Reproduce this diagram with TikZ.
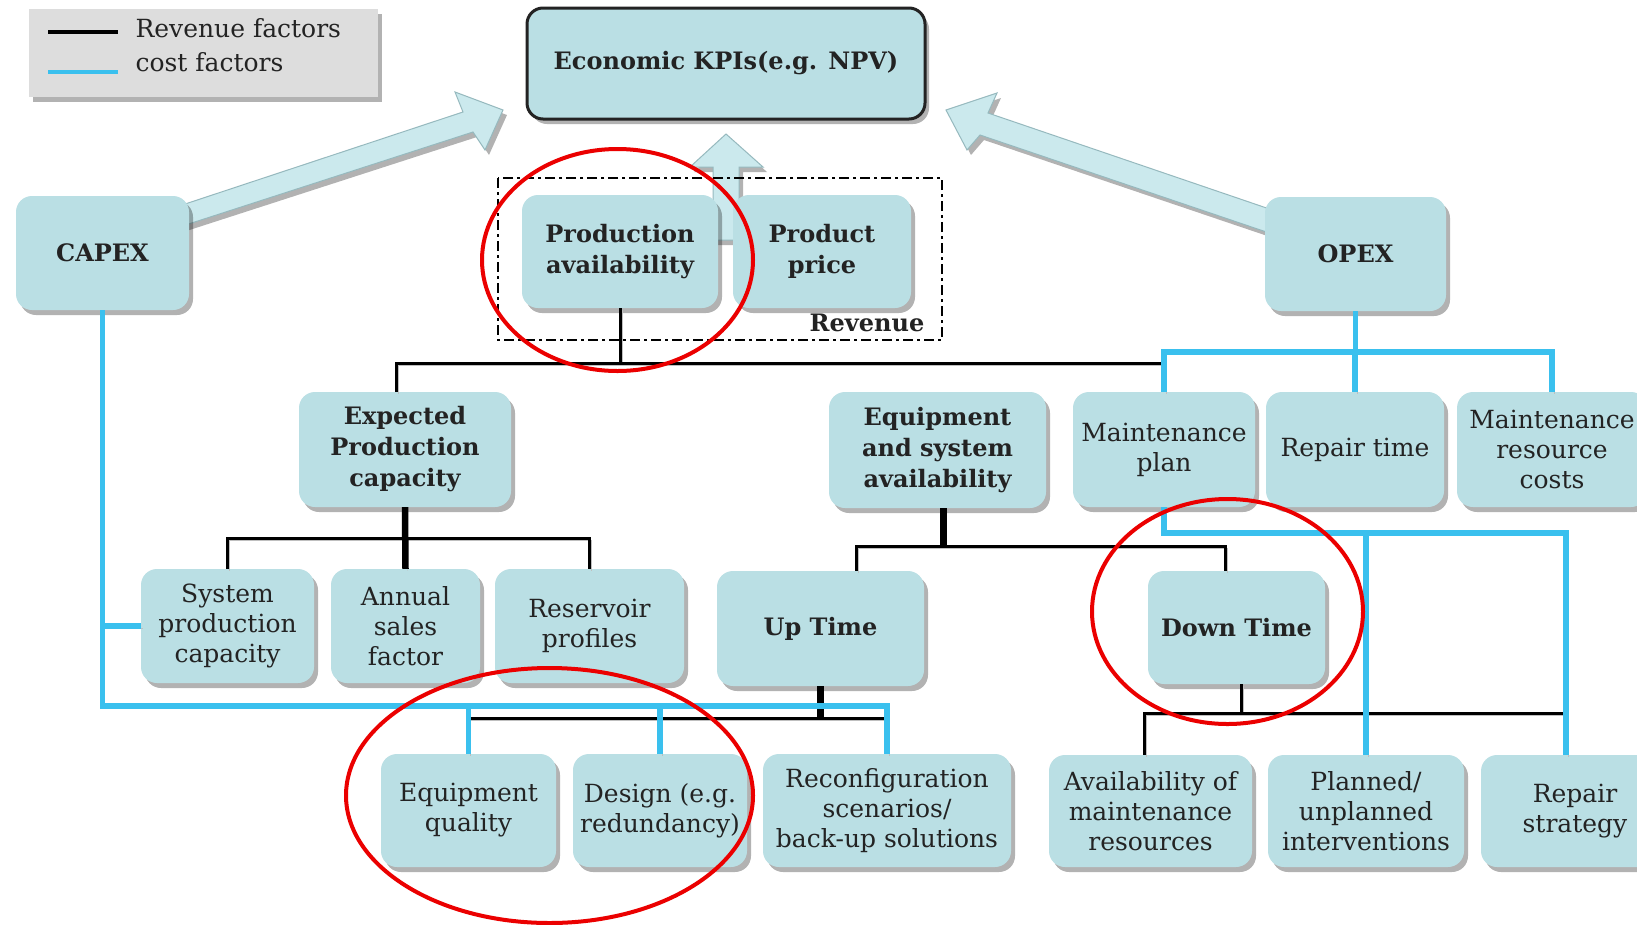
\documentclass[tikz,border=0pt]{standalone}
\usepackage{fontspec}
\setmainfont{DejaVu Serif}
\usetikzlibrary{calc,shadows}
\definecolor{boxfill}{RGB}{186,223,228}
\definecolor{arrowfill}{RGB}{203,233,237}
\definecolor{arrowedge}{RGB}{150,185,190}
\definecolor{costblue}{RGB}{58,192,238}
\definecolor{legendgray}{RGB}{221,221,221}
\definecolor{inkc}{RGB}{35,35,35}
\definecolor{markred}{RGB}{235,0,0}

\begin{document}
\begin{tikzpicture}[x=1pt,y=-1pt,
  shadowed/.style={drop shadow={shadow xshift=4pt,shadow yshift=-5pt,fill=black,opacity=0.3}},
  box/.style={shadowed, rounded corners=16pt, fill=boxfill, align=center, text=inkc,
    inner sep=2pt, font=\fontsize{25}{30}\selectfont},
  boldbox/.style={box, font=\bfseries\fontsize{24}{31}\selectfont},
  wh/.style 2 args={minimum width=#1pt, minimum height=#2pt},
  lineshadow/.style={preaction={draw=black!25, transform canvas={xshift=2pt, yshift=-2pt}}},
  rev/.style={lineshadow, draw=black, line width=3pt},
  revthick/.style={lineshadow, draw=black, line width=6.5pt},
  cost/.style={lineshadow, draw=costblue, line width=5.5pt},
  blockarrow/.style={fill=arrowfill, draw=arrowedge, line width=1pt, shadowed},
  redring/.style={draw=markred, line width=4pt},
]
\clip (0,0) rectangle (1637,924);
\fill[white] (0,0) rectangle (1637,924);

% ---------- legend ----------
\node[shadowed, fill=legendgray, minimum width=349pt, minimum height=88pt, inner sep=0pt] (legend) at (203.5,53) {};
\draw[black, line width=4.5pt] (48,32) -- (118,32);
\draw[costblue, line width=4.5pt] (48,72) -- (118,72);
\node[anchor=west, text=inkc, font=\fontsize{25}{30}\selectfont] (legrev) at (132,28) {Revenue factors};
\node[anchor=west, text=inkc, font=\fontsize{25}{30}\selectfont] (legcost) at (132,62) {cost factors};

% ---------- block arrows towards the KPI box ----------
\filldraw[blockarrow] (170,209) -- (463,112) -- (455,92) -- (503,110) -- (485,150) -- (473,132) -- (170,230) -- cycle;
\filldraw[blockarrow] (1290,216) -- (988,113) -- (997,93) -- (946,110) -- (967,150) -- (980,135) -- (1290,240) -- cycle;
\filldraw[blockarrow] (713,240) -- (713,167) -- (690,167) -- (726,134) -- (763,167) -- (739,167) -- (739,240) -- cycle;

% ---------- revenue group frame ----------
\draw[black, line width=2.5pt, dash pattern=on 10pt off 4pt on 3pt off 4pt] (498,178) rectangle (942,340);
\node[text=inkc, font=\bfseries\fontsize{24}{28}\selectfont] (revlabel) at (867,323) {Revenue};

% ---------- boxes ----------
\node[boldbox, wh={398}{111}, draw=inkc, line width=3pt] (kpi) at (726,63.5) {Economic KPIs(e.g. NPV)};
\node[boldbox, wh={173}{114}] (capex) at (102.5,253) {CAPEX};
\node[boldbox, wh={181}{114}] (opex) at (1355.5,254) {OPEX};
\node[boldbox, wh={196}{113}] (prodavail) at (620,251.5) {Production\\availability};
\node[boldbox, wh={178}{113}] (price) at (822,251.5) {Product\\price};

\node[boldbox, wh={212}{115}] (expprod) at (405,449.5) {Expected\\Production\\capacity};
\node[boldbox, wh={217}{116}] (eqsys) at (937.5,450) {Equipment\\and system\\availability};
\node[box, wh={182}{115}] (mplan) at (1164,449.5) {Maintenance\\plan};
\node[box, wh={178}{115}] (repair) at (1355,449.5) {Repair time};
\node[box, wh={190}{115}] (mres) at (1552,449.5) {Maintenance\\resource\\costs};

\node[box, wh={173}{114}] (sysprod) at (227.5,626) {System\\production\\capacity};
\node[box, wh={149}{114}] (annual) at (405.5,626) {Annual\\sales\\factor};
\node[box, wh={189}{114}] (reservoir) at (589.5,626) {Reservoir\\profiles};
\node[boldbox, wh={207}{115}] (uptime) at (820.5,628.5) {Up Time};
\node[boldbox, wh={177}{113}] (downtime) at (1236.5,627.5) {Down Time};

\node[box, wh={175}{113}] (eqqual) at (468.5,810.5) {Equipment\\quality};
\node[box, wh={174}{113}] (design) at (660,810.5) {Design (e.g.\\redundancy)};
\node[box, wh={248}{113}] (reconfig) at (887,810.5) {Reconfiguration\\scenarios/\\back-up solutions};
\node[box, wh={203}{112}] (availres) at (1150.5,811) {Availability of\\maintenance\\resources};
\node[box, wh={196}{112}] (planned) at (1366,811) {Planned/\\unplanned\\interventions};
\node[box, wh={188}{112}] (repstrat) at (1575,811) {Repair\\strategy};

% ---------- bus levels ----------
\coordinate (yRev) at (0,363);
\coordinate (yEP) at (0,538);
\coordinate (yEQ) at (0,546);
\coordinate (yUT) at (0,718);
\coordinate (yDT) at (0,713);
\coordinate (yCX) at (0,706);
\coordinate (yOX) at (0,352);
\coordinate (yMP) at (0,533);

% drop points that sit off the box centres
\coordinate (epd) at ($(expprod.north)+(-9,0)$);
\coordinate (esd) at ($(eqsys.south)+(6,0)$);
\coordinate (upd) at ($(uptime.north)+(36,0)$);
\coordinate (dnd) at ($(downtime.north)+(-11,0)$);
\coordinate (dns) at ($(downtime.south)+(5,0)$);
\coordinate (rsd) at ($(repstrat.north)+(-9,0)$);

% ---------- revenue factors (black) ----------
\draw[rev] (prodavail.south) -- (prodavail.south |- yRev);
\draw[rev] (epd) |- (yRev -| mplan.north);
\draw[rev] (sysprod.north) |- (yEP -| reservoir.north) -- (reservoir.north);
\draw[revthick] (expprod.south) -- (annual.north);
\draw[revthick] (esd) -- (esd |- yEQ);
\draw[rev] (upd) |- (yEQ -| dnd) -- (dnd);
\draw[revthick] (uptime.south) -- (uptime.south |- yUT);
\draw[rev] (yUT -| eqqual.north) -- (yUT -| reconfig.north);
\draw[rev] (dns) -- (dns |- yDT);
\draw[rev] ($(availres.north)+(-6,0)$) |- (yDT -| rsd);

% ---------- cost factors (blue) ----------
\draw[cost] (capex.south) |- (yCX -| reconfig.north) -- (reconfig.north);
\draw[cost] (capex.south |- sysprod.west) -- (sysprod.west);
\draw[cost] (eqqual.north) -- (eqqual.north |- yCX);
\draw[cost] (design.north) -- (design.north |- yCX);
\draw[cost] (opex.south) -- (opex.south |- yOX);
\draw[cost] (mplan.north) |- (yOX -| mres.north) -- (mres.north);
\draw[cost] (repair.north) -- (repair.north |- yOX);
\draw[cost] (mplan.south) |- (yMP -| rsd) -- (rsd);
\draw[cost] (planned.north) -- (planned.north |- yMP);

% ---------- highlight rings ----------
\draw[redring] (617.5,260) ellipse [x radius=135.5pt, y radius=111pt];
\draw[redring] (549.5,795.5) ellipse [x radius=203.5pt, y radius=127.5pt];
\draw[redring] (1227.5,611.5) ellipse [x radius=135.5pt, y radius=112.5pt];
\end{tikzpicture}
\end{document}
